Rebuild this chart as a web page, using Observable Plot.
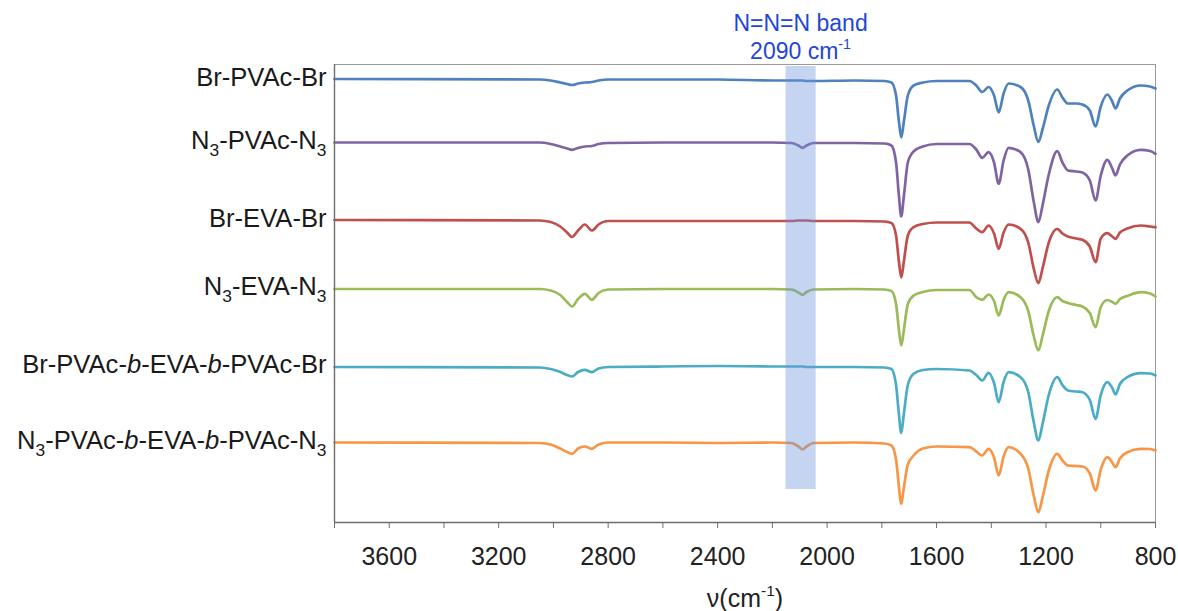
<!DOCTYPE html>
<html><head><meta charset="utf-8">
<script src="https://cdn.jsdelivr.net/npm/d3@7"></script>
<script src="https://cdn.jsdelivr.net/npm/@observablehq/plot@0.6"></script>
<style>
body{margin:0;background:#fff;}
#chart svg{font-family:"Liberation Sans",Arial,sans-serif;color:#222;background:#fff;}
</style>
</head><body><div id="chart"></div>
<script>
// wavenumber grid (cm-1) shared by all spectra
const wavenumbers = [3800,3050,3010,2975,2950,2932,2910,2885,2860,2835,2800,2600,2400,2200,2130,2105,2090,2075,2050,1900,1790,1765,1748,1738,1729,1720,1705,1684,1650,1600,1480,1455,1433,1410,1390,1373,1355,1337,1293,1265,1245,1228,1212,1190,1159,1140,1120,1090,1067,1040,1019,1000,976,958,946,930,903,854,820,800];

// sample labels (markup: _{} subscript, *..* italic)
const sampleLabels = ["Br-PVAc-Br","N_{3}-PVAc-N_{3}","Br-EVA-Br","N_{3}-EVA-N_{3}","Br-PVAc-*b*-EVA-*b*-PVAc-Br","N_{3}-PVAc-*b*-EVA-*b*-PVAc-N_{3}"];

// vertical stacking offsets (a.u.)
const offsets = [443, 380, 302, 233.5, 155.5, 80];

// absorption depth below each baseline (a.u.)
const depthBrPVAcBr = [-0.5,0,1,3,4.5,5.5,4,3,2.5,1, 0,0,0,1,1,1,1,1.5,1.5,1, 1.5,3,16,41,58,43,16,6,3,1.5, 1.5,6,12.5,7.5,16,33,14,4,7.5,21, 46,62.5,49,26,10,18,24,24,25,31, 47,27,15,22,29,19,11,6,7,9];
const depthN3PVAcN3 = [0,0,1.5,4,6,7.3,5.5,4,3.5,1.5, 0.5,0,0,0,0.5,3,5.3,3,0.5,0.5, 1,3,20,52,74,55,20,9,4,1.5, 1.5,7,15.3,9.7,20,41.3,18,5.3,9.7,27, 59,79.7,62,32,8.7,20,28,29,30,38, 58,33,17.3,26,33,22,13,7.3,8.5,11.3];
const depthBrEVABr = [-0.5,0,1.5,6,12,16.5,10,4,10,4, 0.5,0.5,0.5,0.5,0.5,0,0,0,0.5,0.5, 1,2.5,15,40,57,42,15,6.7,3.5,2, 2,8,11.7,5,13,28.3,12,4,8.3,22, 48,62.7,47,22,8.3,13,16,18,19.3,26, 41.7,18,12.7,16,18.3,12,8,5,6,6.7];
const depthN3EVAN3 = [0,0,1.5,6,13,17.5,10,4.8,10.8,4, 0.5,0,0,0,0.5,3.5,5.8,3,0.5,0, 0.5,2,15,40,56.5,42,15,6.5,3,1, 1,8.2,10.8,5.5,12,26.5,11,3.2,8.2,22, 47,61.5,46,22,8.2,12,14,16,17.5,24, 38.2,18,11,13,14.8,10,7,3.2,4.5,7.5];
const depthBrBlockBr = [0,0.5,2,5,8,9.5,5,2.8,5.2,1.5, 0,-0.5,-1,-0.5,-0.5,-0.5,-0.5,0,0,0, 0.5,2,18,46,66,48,18,6.8,3,2, 3.5,8,13.5,5.8,16,35.2,15,5.2,10.2,25, 55,73.5,56,28,10.2,18,23.5,24.5,25.2,33, 51.8,28,15.2,21,27.5,17,10.2,6.2,6.5,8.5];
const depthN3BlockN3 = [0,0.5,2,6,9.5,11.3,6,4,6.3,2, 0,0,0.5,0,0.5,4,7,4,0.5,0, 1,3,17,43,61.3,46,22,13,6,4, 4.7,9,13,6.3,15,33,14,4.7,11.3,26, 53,69.7,54,28,11.3,18,23,23.5,24,31, 48,27,14.7,20,24.7,16,9.7,6.3,6.5,8];

// highlighted azide band
const bandFrom = [2150];
const bandTo = [2040];
const bandBottom = [33];
const bandTop = [456];
const bandLabel = ["N=N=N band", "2090 cm^{-1}"];
const bandLabelX = 2097;

const xTicks = d3.range(800, 3801, 200);
const xLabel = "ν(cm^{-1})";

const colors = ["#4f81bd","#8064a2","#c0504d","#9bbb59","#4bacc6","#f79646"];

// ---- build ----
const plain = s => s.replace(/_\{([^}]*)\}/g,"$1").replace(/\^\{([^}]*)\}/g,"$1").replace(/\*([^*]*)\*/g,"$1");
const names = sampleLabels.map(plain);
const depths = [depthBrPVAcBr, depthN3PVAcN3, depthBrEVABr, depthN3EVAN3, depthBrBlockBr, depthN3BlockN3];
const rows = [];
depths.forEach((arr, i) => arr.forEach((d, j) => rows.push({name: names[i], wn: wavenumbers[j], v: offsets[i] - d})));
const labelRows = names.map((n, i) => ({name: n, y: offsets[i]}));
const band = bandFrom.map((b, i) => ({x1: b, x2: bandTo[i], y1: bandBottom[i], y2: bandTop[i]}));

const LABEL_FS = 25.6;
const chart = Plot.plot({
  width: 1178, height: 611,
  marginLeft: 334, marginRight: 23, marginTop: 64, marginBottom: 89,
  x: {domain: [3800, 800], axis: null},
  y: {domain: [0, 458], axis: null},
  color: {domain: names, range: colors},
  marks: [
    Plot.frame({stroke: "#9a9a9a", strokeWidth: 1}),
    Plot.line(rows, {x: "wn", y: "v", z: "name", stroke: "name", strokeWidth: 2.7, curve: "monotone-x"}),
    Plot.rect(band, {x1: "x1", x2: "x2", y1: "y1", y2: "y2", fill: "rgb(110,147,217)", fillOpacity: 0.4}),
    Plot.ruleX([3800], {stroke: "#6e6e6e", strokeWidth: 1.4}),
    Plot.ruleY([0], {stroke: "#6e6e6e", strokeWidth: 1.4}),
    Plot.axisX({ticks: xTicks, tickSize: 6, tickPadding: 19, fontSize: 25, stroke: "#6e6e6e",
      tickFormat: d => d % 400 === 0 ? String(d) : ""}),
    Plot.text([xLabel].map(plain), {text: d => d, frameAnchor: "bottom", dy: 76, fontSize: 25, fill: "#222", lineAnchor: "middle"}),
    Plot.text(labelRows, {x: 3800, y: "y", text: "name", textAnchor: "end", dx: -8, dy: -2, fontSize: LABEL_FS, fill: "#1a1a1a", lineAnchor: "middle"}),
    Plot.text([plain(bandLabel[0])], {x: bandLabelX, text: d => d, frameAnchor: "top", dy: -41, fontSize: 23, fill: "#2346d6", lineAnchor: "middle"}),
    Plot.text([plain(bandLabel[1])], {x: bandLabelX, text: d => d, frameAnchor: "top", dy: -13, fontSize: 23, fill: "#2346d6", lineAnchor: "middle"})
  ]
});
document.getElementById("chart").appendChild(chart);

// rich text: subscripts, superscripts, italics
const rich = new Map();
sampleLabels.forEach(m => rich.set(plain(m), [m, LABEL_FS]));
rich.set(plain(xLabel), [xLabel, 25]);
rich.set(plain(bandLabel[1]), [bandLabel[1], 23]);
const NS = "http://www.w3.org/2000/svg";
chart.querySelectorAll("text").forEach(t => {
  const key = t.textContent;
  if (!rich.has(key)) return;
  const [markup, fs] = rich.get(key);
  while (t.firstChild) t.removeChild(t.firstChild);
  const re = /_\{([^}]*)\}|\^\{([^}]*)\}|\*([^*]*)\*|([^_^*]+)/g;
  let m, shift = 0;
  while ((m = re.exec(markup))) {
    const ts = document.createElementNS(NS, "tspan");
    let target = 0;
    if (m[1] != null) { ts.textContent = m[1]; ts.setAttribute("font-size", fs * 0.68); target = fs * 0.28; }
    else if (m[2] != null) { ts.textContent = m[2]; ts.setAttribute("font-size", fs * 0.62); target = -fs * 0.42; }
    else if (m[3] != null) { ts.textContent = m[3]; ts.setAttribute("font-style", "italic"); }
    else ts.textContent = m[4];
    if (target !== shift) { ts.setAttribute("dy", target - shift); shift = target; }
    t.appendChild(ts);
  }
});
</script>
</body></html>
